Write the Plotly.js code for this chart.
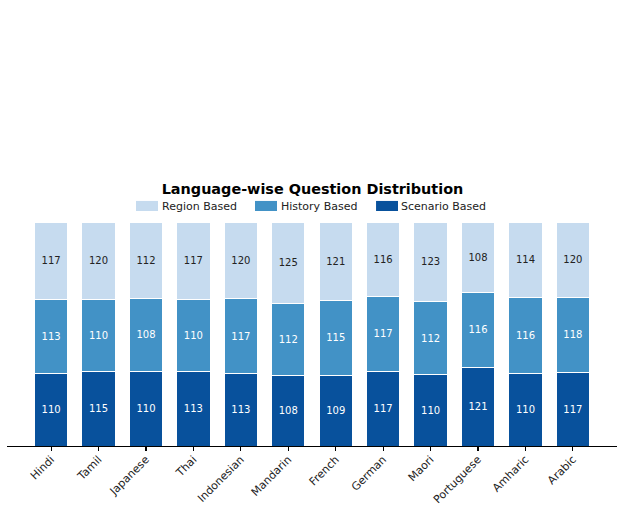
<!DOCTYPE html>
<html>
<head>
<meta charset="utf-8">
<script src="https://cdn.plot.ly/plotly-3.0.1.min.js"></script>
<style>
  html, body { margin: 0; padding: 0; background: #ffffff; }
  #chart { width: 625px; height: 509px; }
</style>
</head>
<body>
<div id="chart"></div>
<script>
// Question counts per language, by question type
const languages = ["Hindi", "Tamil", "Japanese", "Thai", "Indonesian", "Mandarin",
                   "French", "German", "Maori", "Portuguese", "Amharic", "Arabic"];
const scenarioBased = [110, 115, 110, 113, 113, 108, 109, 117, 110, 121, 110, 117];
const historyBased  = [113, 110, 108, 110, 117, 112, 115, 117, 112, 116, 116, 118];
const regionBased   = [117, 120, 112, 117, 120, 125, 121, 116, 123, 108, 114, 120];

const seriesNames  = ["Scenario Based", "History Based", "Region Based"];
const seriesColors = ["#08519c", "#4292c6", "#c6dbef"];
const textColors   = ["#ffffff", "#ffffff", "#222222"];
const seriesCounts = [scenarioBased, historyBased, regionBased];

// Each bar is shown as a share of that language's total
const totals = languages.map((_, i) => scenarioBased[i] + historyBased[i] + regionBased[i]);

const FONT = "DejaVu Sans, sans-serif";

const traces = seriesCounts.map((counts, s) => ({
  type: "bar",
  name: seriesNames[s],
  x: languages,
  y: counts.map((c, i) => c / totals[i] * 100),
  text: counts.map(String),
  textposition: "inside",
  insidetextanchor: "middle",
  textangle: 0,
  constraintext: "none",
  textfont: { family: FONT, size: 10, color: textColors[s] },
  marker: { color: seriesColors[s], line: { color: "#ffffff", width: 1 } },
  hoverinfo: "skip",
  showlegend: false
}));

// Legend drawn as swatches + labels above the plot
const legendItems = [
  { name: "Region Based",   color: seriesColors[2], x0: 0.2115, x1: 0.2475, tx: 0.251 },
  { name: "History Based",  color: seriesColors[1], x0: 0.4066, x1: 0.4426, tx: 0.446 },
  { name: "Scenario Based", color: seriesColors[0], x0: 0.605,  x1: 0.641,  tx: 0.643 }
];

const shapes = legendItems.map(it => ({
  type: "rect", xref: "paper", yref: "paper",
  x0: it.x0, x1: it.x1, y0: 1.049, y1: 1.094,
  fillcolor: it.color, line: { width: 0 }
}));

const annotations = legendItems.map(it => ({
  xref: "paper", yref: "paper", x: it.tx, y: 1.071,
  xanchor: "left", yanchor: "middle", showarrow: false,
  text: it.name, font: { family: FONT, size: 11, color: "#222222" }
}));

const layout = {
  width: 625,
  height: 509,
  margin: { l: 7, r: 8, t: 222, b: 63 },
  paper_bgcolor: "#ffffff",
  plot_bgcolor: "#ffffff",
  barmode: "stack",
  bargap: 0.3,
  title: {
    text: "<b>Language-wise Question Distribution</b>",
    font: { family: FONT, size: 14.4, color: "#000000" },
    x: 0.5, xanchor: "center",
    y: 1 - 189 / 509, yanchor: "middle"
  },
  xaxis: {
    range: [-0.93, 11.93],
    tickangle: -45,
    ticks: "outside",
    ticklen: 3.5,
    tickwidth: 1.2,
    tickcolor: "#000000",
    ticklabelstandoff: -2,
    showline: true,
    linecolor: "#000000",
    linewidth: 1.2,
    showgrid: false,
    zeroline: false,
    tickfont: { family: FONT, size: 11, color: "#222222" }
  },
  yaxis: {
    range: [0, 100],
    visible: false,
    showgrid: false,
    zeroline: false
  },
  shapes: shapes,
  annotations: annotations
};

Plotly.newPlot("chart", traces, layout, { staticPlot: true, displayModeBar: false });
</script>
</body>
</html>
